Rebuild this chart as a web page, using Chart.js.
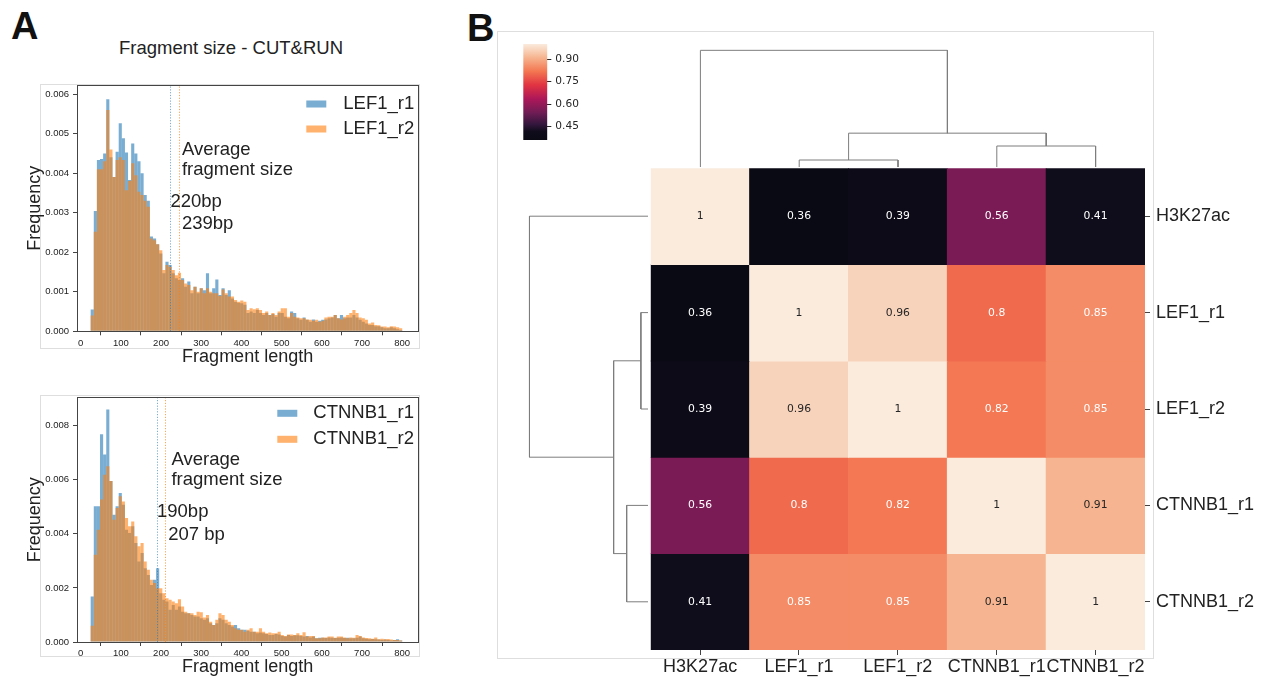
<!DOCTYPE html>
<html>
<head>
<meta charset="utf-8">
<script src="https://cdn.jsdelivr.net/npm/chart.js@4.4.0/dist/chart.umd.min.js"></script>
<style>
  body { margin: 0; background: #fff; }
  #page { position: relative; width: 1262px; height: 678px; overflow: hidden;
          font-family: 'Liberation Sans', Arial, sans-serif; color: #222; }
  canvas { position: absolute; }
  .frame { position: absolute; border: 1px solid #dedede; box-sizing: border-box; }
  .lbl { position: absolute; white-space: nowrap; line-height: 1; }
</style>
</head>
<body>
<div id="page">
  <div class="frame" style="left:40px;top:84px;width:380px;height:265px"></div>
  <div class="frame" style="left:40px;top:395px;width:380px;height:262px"></div>
  <div class="frame" style="left:497px;top:31px;width:657px;height:628px"></div>

  <div class="lbl" style="left:11px;top:7px;font-weight:bold;font-size:38px;color:#111">A</div>
  <div class="lbl" style="left:467px;top:9px;font-weight:bold;font-size:38px;color:#111">B</div>
  <div class="lbl" style="left:231px;top:39px;font-size:18.5px;transform:translateX(-50%)">Fragment size - CUT&amp;RUN</div>

  <canvas id="histTop" width="430" height="290" style="left:0;top:80px"></canvas>
  <canvas id="histBottom" width="430" height="286" style="left:0;top:392px"></canvas>
  <canvas id="colorbar" width="70" height="110" style="left:520px;top:38px"></canvas>
  <canvas id="colTree" width="494" height="126" style="left:650.7px;top:40.7px"></canvas>
  <canvas id="rowTree" width="128" height="482" style="left:520px;top:168.3px"></canvas>
  <canvas id="heat" width="622" height="518" style="left:640px;top:160px"></canvas>
</div>

<script>
// ---- histogram data (panel A) ----
const BIN_START = 25;     // first bin edge (bp)
const BIN_WIDTH = 7.75;   // 100 bins up to 800 bp

const lef1R1 = [0.00055,0.00304,0.00433,0.00436,0.00450,0.00587,0.00440,0.00390,0.00454,0.00526,
  0.00488,0.00452,0.00383,0.00475,0.00450,0.00430,0.00400,0.00345,0.00330,0.00240,
  0.00235,0.00220,0.00197,0.00147,0.00176,0.00168,0.00147,0.00134,0.00130,0.00134,
  0.00113,0.00126,0.00096,0.00113,0.00096,0.00109,0.00104,0.00147,0.00096,0.00109,
  0.00131,0.00092,0.00109,0.00092,0.00104,0.00083,0.00075,0.00072,0.00071,0.00067,
  0.00046,0.00050,0.00046,0.00054,0.00046,0.00041,0.00046,0.00041,0.00044,0.00037,
  0.00046,0.00046,0.00037,0.00033,0.00050,0.00046,0.00033,0.00029,0.00035,0.00029,
  0.00024,0.00030,0.00024,0.00027,0.00029,0.00030,0.00033,0.00035,0.00041,0.00033,
  0.00041,0.00033,0.00035,0.00035,0.00041,0.00035,0.00029,0.00024,0.00020,0.00016,
  0.00016,0.00013,0.00013,0.00010,0.00008,0.00008,0.00010,0.00008,0.00005,0.00003];
const lef1R2 = [0.00040,0.00252,0.00410,0.00410,0.00430,0.00560,0.00460,0.00390,0.00433,0.00440,
  0.00433,0.00357,0.00380,0.00425,0.00395,0.00353,0.00345,0.00330,0.00315,0.00235,
  0.00230,0.00220,0.00205,0.00155,0.00168,0.00163,0.00155,0.00142,0.00148,0.00130,
  0.00121,0.00117,0.00104,0.00113,0.00100,0.00109,0.00096,0.00109,0.00100,0.00096,
  0.00096,0.00089,0.00106,0.00096,0.00088,0.00088,0.00079,0.00075,0.00078,0.00075,
  0.00054,0.00058,0.00056,0.00058,0.00054,0.00046,0.00050,0.00041,0.00046,0.00041,
  0.00050,0.00058,0.00058,0.00037,0.00046,0.00037,0.00035,0.00033,0.00033,0.00030,
  0.00029,0.00027,0.00029,0.00024,0.00027,0.00035,0.00037,0.00037,0.00041,0.00033,
  0.00030,0.00037,0.00041,0.00046,0.00054,0.00046,0.00035,0.00033,0.00029,0.00020,
  0.00022,0.00016,0.00015,0.00012,0.00012,0.00010,0.00013,0.00012,0.00010,0.00008];
const ctnnb1R1 = [0.00168,0.00502,0.00502,0.00768,0.00693,0.00860,0.00595,0.00471,0.00502,0.00551,
  0.00508,0.00415,0.00403,0.00428,0.00366,0.00298,0.00329,0.00273,0.00248,0.00211,
  0.00230,0.00273,0.00180,0.00156,0.00150,0.00119,0.00137,0.00119,0.00131,0.00112,
  0.00106,0.00106,0.00100,0.00094,0.00094,0.00088,0.00082,0.00088,0.00069,0.00063,
  0.00069,0.00088,0.00082,0.00069,0.00063,0.00057,0.00063,0.00051,0.00045,0.00045,
  0.00042,0.00038,0.00038,0.00032,0.00035,0.00032,0.00030,0.00026,0.00026,0.00030,
  0.00028,0.00022,0.00020,0.00026,0.00022,0.00025,0.00025,0.00022,0.00020,0.00022,
  0.00017,0.00020,0.00014,0.00016,0.00016,0.00015,0.00017,0.00016,0.00015,0.00016,
  0.00017,0.00015,0.00016,0.00014,0.00014,0.00016,0.00020,0.00014,0.00012,0.00010,
  0.00011,0.00010,0.00009,0.00007,0.00009,0.00007,0.00006,0.00007,0.00010,0.00006];
const ctnnb1R2 = [0.00060,0.00323,0.00415,0.00527,0.00619,0.00650,0.00595,0.00452,0.00496,0.00539,
  0.00520,0.00459,0.00428,0.00446,0.00391,0.00354,0.00366,0.00298,0.00267,0.00230,
  0.00218,0.00199,0.00199,0.00180,0.00162,0.00156,0.00150,0.00143,0.00158,0.00131,
  0.00112,0.00106,0.00106,0.00100,0.00112,0.00110,0.00091,0.00100,0.00075,0.00063,
  0.00082,0.00106,0.00100,0.00082,0.00075,0.00063,0.00051,0.00045,0.00045,0.00038,
  0.00045,0.00051,0.00038,0.00038,0.00051,0.00038,0.00032,0.00035,0.00032,0.00032,
  0.00038,0.00026,0.00022,0.00028,0.00028,0.00026,0.00032,0.00026,0.00036,0.00020,
  0.00022,0.00022,0.00014,0.00014,0.00017,0.00017,0.00020,0.00020,0.00016,0.00020,
  0.00020,0.00017,0.00014,0.00017,0.00016,0.00026,0.00022,0.00017,0.00015,0.00014,
  0.00012,0.00017,0.00010,0.00012,0.00010,0.00011,0.00009,0.00007,0.00007,0.00006];

const lef1Means = [223, 245];     // dotted lines
const ctnnb1Means = [190, 211];

// ---- correlation data (panel B) ----
const heatLabels = ['H3K27ac', 'LEF1_r1', 'LEF1_r2', 'CTNNB1_r1', 'CTNNB1_r2'];
const corrH3K27ac = [1, 0.36, 0.39, 0.56, 0.41];
const corrLef1R1 = [0.36, 1, 0.96, 0.8, 0.85];
const corrLef1R2 = [0.39, 0.96, 1, 0.82, 0.85];
const corrCtnnb1R1 = [0.56, 0.8, 0.82, 1, 0.91];
const corrCtnnb1R2 = [0.41, 0.85, 0.85, 0.91, 1];
const corrRows = [corrH3K27ac, corrLef1R1, corrLef1R2, corrCtnnb1R1, corrCtnnb1R2];
const VMIN = 0.36, VMAX = 1.0;
const cbTicks = [0.45, 0.60, 0.75, 0.90];

// linkage (scipy style: ids >= 5 are earlier merges), relative heights
const treeMerges = [[1, 2], [3, 4], [5, 6], [0, 7]];
const treeHeights = [0.06, 0.18, 0.29, 1.0];

// ---- styling ----
const FONT = "'Liberation Sans', Arial, sans-serif";
const DJV = "'DejaVu Sans', sans-serif";
const SPINE = '#444';
const FILLS = ['rgba(31,119,180,0.6)', 'rgba(255,127,14,0.6)'];
const LINES = ['rgba(31,119,180,0.6)', 'rgba(255,127,14,0.7)'];
Chart.defaults.font.family = FONT;
Chart.defaults.color = '#222';
Chart.defaults.animation = false;

// stop Chart.js from reserving room for half tick labels at the ends of an axis
const noEdgePad = s => { s.paddingTop = 0; s.paddingBottom = 0; s.paddingLeft = 0; s.paddingRight = 0; };

const binCenters = lef1R1.map((_, i) => BIN_START + BIN_WIDTH * (i + 0.5));

function histOverlay(o) {
  return {
    id: 'histOverlay',
    afterDatasetsDraw(chart) {
      const { ctx, chartArea: a, scales: { x, y } } = chart;
      ctx.save();
      ctx.lineWidth = 1;
      ctx.setLineDash([1.2, 1.6]);
      o.means.forEach((m, i) => {
        const px = Math.round(x.getPixelForValue(m)) + 0.5;
        ctx.strokeStyle = LINES[i];
        ctx.beginPath(); ctx.moveTo(px, a.bottom); ctx.lineTo(px, a.top); ctx.stroke();
      });
      ctx.setLineDash([]);
      ctx.strokeStyle = SPINE; ctx.lineWidth = 1;
      ctx.strokeRect(Math.round(a.left) + 0.5, Math.round(a.top) + 0.5,
                     Math.round(a.right - a.left), Math.round(a.bottom - a.top));
      ctx.fillStyle = '#222';
      ctx.font = '18.5px ' + FONT;
      ctx.textAlign = 'left'; ctx.textBaseline = 'middle';
      o.notes.forEach(n => ctx.fillText(n[0], x.getPixelForValue(n[1]), y.getPixelForValue(n[2])));
      o.names.forEach((name, i) => {
        const cy = a.top + o.legRows[i];
        ctx.fillStyle = FILLS[i];
        ctx.fillRect(a.right - o.legBox, cy - 3.5, 20, 7);
        ctx.fillStyle = '#222';
        ctx.fillText(name, a.right - o.legText, cy);
      });
      ctx.restore();
    }
  };
}

function makeHist(id, o) {
  new Chart(document.getElementById(id), {
    type: 'bar',
    data: {
      datasets: o.series.map((s, i) => ({
        label: o.names[i],
        data: s.map((v, k) => ({ x: binCenters[k], y: v })),
        backgroundColor: FILLS[i],
        grouped: false,
        order: 2 - i
      }))
    },
    options: {
      responsive: false,
      layout: { padding: { left: 0, top: o.padTop, right: 11.7, bottom: 0 } },
      datasets: { bar: { grouped: false, barPercentage: 1, categoryPercentage: 1,
                         borderWidth: 0, inflateAmount: 0 } },
      plugins: { legend: { display: false }, tooltip: { enabled: false } },
      scales: {
        x: {
          type: 'linear', min: -9, max: 840, offset: false,
          afterFit: s => { noEdgePad(s); s.height = o.xAxisH; },
          ticks: { stepSize: 100, includeBounds: false, maxRotation: 0, padding: 2,
                   font: { size: 9.5 }, color: '#222' },
          grid: { drawOnChartArea: false, tickLength: 4, color: SPINE },
          border: { display: false },
          title: { display: true, text: 'Fragment length', color: '#222',
                   font: { size: 18 }, padding: { top: 0, bottom: o.xTitlePad } }
        },
        y: {
          min: 0, max: o.yMax,
          afterFit: s => { noEdgePad(s); s.width = 77; },
          ticks: { stepSize: o.yStep, includeBounds: false, padding: 4,
                   font: { size: 9.5 }, color: '#222', callback: v => v.toFixed(3) },
          grid: { drawOnChartArea: false, tickLength: 4, color: SPINE },
          border: { display: false },
          title: { display: true, text: 'Frequency', color: '#222',
                   font: { size: 18 }, padding: { top: 24.2, bottom: 0 } }
        }
      }
    },
    plugins: [histOverlay(o)]
  });
}

makeHist('histTop', {
  series: [lef1R1, lef1R2], names: ['LEF1_r1', 'LEF1_r2'], means: lef1Means,
  padTop: 5, xAxisH: 38.7, xTitlePad: 2.5, yMax: 0.00623, yStep: 0.001,
  notes: [['Average', 252, 0.00459], ['fragment size', 252, 0.00408],
          ['220bp', 223.5, 0.00328], ['239bp', 252, 0.00272]],
  legRows: [19, 44], legBox: 112, legText: 75
});
makeHist('histBottom', {
  series: [ctnnb1R1, ctnnb1R2], names: ['CTNNB1_r1', 'CTNNB1_r2'], means: ctnnb1Means,
  padTop: 5.3, xAxisH: 36, xTitlePad: 0.5, yMax: 0.00905, yStep: 0.002,
  notes: [['Average', 226, 0.00675], ['fragment size', 226, 0.00601],
          ['190bp', 190, 0.00480], ['207 bp', 218, 0.00397]],
  legRows: [16, 42], legBox: 141, legText: 105
});

// ---- rocket colormap ----
const rocketStops = [
  [0.000, 10, 10, 20], [0.090, 16, 12, 28], [0.160, 50, 22, 60], [0.286, 112, 28, 85],
  [0.429, 173, 23, 89], [0.571, 225, 51, 66], [0.714, 243, 118, 81], [0.857, 246, 180, 143],
  [1.000, 250, 235, 221]
];
function rocket(t) {
  t = Math.max(0, Math.min(1, t));
  for (let i = 1; i < rocketStops.length; i++) {
    const a = rocketStops[i - 1], b = rocketStops[i];
    if (t <= b[0]) {
      const f = (t - a[0]) / (b[0] - a[0]);
      return [1, 2, 3].map(k => Math.round(a[k] + (b[k] - a[k]) * f));
    }
  }
  return rocketStops[rocketStops.length - 1].slice(1);
}
const norm = v => (v - VMIN) / (VMAX - VMIN);
const rgb = c => `rgb(${c[0]},${c[1]},${c[2]})`;
function textColorFor(v) {
  const lin = rocket(norm(v)).map(c => { c /= 255; return c <= 0.03928 ? c / 12.92 : Math.pow((c + 0.055) / 1.055, 2.4); });
  const lum = 0.2126 * lin[0] + 0.7152 * lin[1] + 0.0722 * lin[2];
  return lum > 0.408 ? '#262626' : '#ffffff';
}

// ---- heatmap ----
const cellText = {
  id: 'cellText',
  afterDatasetsDraw(chart) {
    const ctx = chart.ctx;
    ctx.save();
    ctx.font = '10.8px ' + DJV;
    ctx.textAlign = 'center'; ctx.textBaseline = 'middle';
    corrRows.forEach((row, r) => {
      chart.getDatasetMeta(r).data.forEach((bar, c) => {
        const p = bar.getCenterPoint();
        ctx.fillStyle = textColorFor(row[c]);
        ctx.fillText(String(row[c]), p.x, p.y);
      });
    });
    ctx.restore();
  }
};

new Chart(document.getElementById('heat'), {
  type: 'bar',
  data: {
    labels: heatLabels,
    datasets: corrRows.map((row, r) => ({
      label: heatLabels[r],
      data: row.map(() => [r, r + 1]),
      backgroundColor: row.map(v => rgb(rocket(norm(v))))
    }))
  },
  options: {
    responsive: false,
    layout: { padding: { left: 10.7, top: 8.3, right: 0, bottom: 0 } },
    datasets: { bar: { grouped: false, barPercentage: 1, categoryPercentage: 1,
                       borderWidth: 0, inflateAmount: 0.4 } },
    plugins: { legend: { display: false }, tooltip: { enabled: false } },
    scales: {
      x: {
        afterFit: s => { noEdgePad(s); s.height = 28; },
        ticks: { font: { size: 18 }, color: '#222', padding: 1, maxRotation: 0, autoSkip: false },
        grid: { offset: false, drawOnChartArea: false, tickLength: 5, color: SPINE },
        border: { display: false }
      },
      y: {
        type: 'linear', position: 'right', min: 0, max: heatLabels.length, reverse: true,
        afterFit: s => { noEdgePad(s); s.width = 117; },
        afterBuildTicks: s => { s.ticks = heatLabels.map((_, i) => ({ value: i + 0.5 })); },
        ticks: { font: { size: 18 }, color: '#222', padding: 6, callback: (v, i) => heatLabels[i] },
        grid: { drawOnChartArea: false, tickLength: 5, color: SPINE },
        border: { display: false }
      }
    }
  },
  plugins: [cellText]
});

// ---- colorbar ----
new Chart(document.getElementById('colorbar'), {
  type: 'bar',
  data: {
    labels: [''],
    datasets: [{
      data: [[VMIN, VMAX]],
      backgroundColor: ctx => {
        const a = ctx.chart.chartArea;
        if (!a) return '#000';
        const g = ctx.chart.ctx.createLinearGradient(0, a.bottom, 0, a.top);
        rocketStops.forEach(s => g.addColorStop(s[0], `rgb(${s[1]},${s[2]},${s[3]})`));
        return g;
      },
      borderWidth: 0, barPercentage: 1, categoryPercentage: 1
    }]
  },
  options: {
    responsive: false,
    layout: { padding: { left: 3.3, top: 6, right: 0, bottom: 8 } },
    plugins: { legend: { display: false }, tooltip: { enabled: false } },
    scales: {
      x: { display: false },
      y: {
        position: 'right', min: VMIN, max: VMAX,
        afterFit: s => { noEdgePad(s); s.width = 42.7; },
        afterBuildTicks: s => { s.ticks = cbTicks.map(v => ({ value: v })); },
        ticks: { font: { size: 10.6, family: DJV }, color: '#262626', padding: 4,
                 callback: v => v.toFixed(2) },
        grid: { drawOnChartArea: false, tickLength: 4, color: '#262626' },
        border: { display: false }
      }
    }
  }
});

// ---- dendrograms ----
function treeSegments() {
  const pos = heatLabels.map((_, i) => i + 0.5);
  const h = heatLabels.map(() => 0);
  return treeMerges.map(([a, b], k) => {
    const hk = treeHeights[k];
    const seg = [[pos[a], h[a]], [pos[a], hk], [pos[b], hk], [pos[b], h[b]]];
    pos.push((pos[a] + pos[b]) / 2);
    h.push(hk);
    return seg;
  });
}
function makeTree(id, vertical) {
  const segs = treeSegments();
  const leafAxis = { display: false, min: 0, max: heatLabels.length };
  const hAxis = { display: false, min: 0, max: 1.08 };
  new Chart(document.getElementById(id), {
    type: 'scatter',
    data: {
      datasets: segs.map(s => ({
        data: s.map(p => vertical ? { x: p[0], y: p[1] } : { x: p[1], y: p[0] }),
        showLine: true, borderColor: '#7d7d7d', borderWidth: 1, pointRadius: 0, clip: false
      }))
    },
    options: {
      responsive: false,
      plugins: { legend: { display: false }, tooltip: { enabled: false } },
      scales: vertical
        ? { x: leafAxis, y: hAxis }
        : { x: Object.assign({ reverse: true }, hAxis), y: Object.assign({ reverse: true }, leafAxis) }
    }
  });
}
makeTree('colTree', true);
makeTree('rowTree', false);
</script>
</body>
</html>
